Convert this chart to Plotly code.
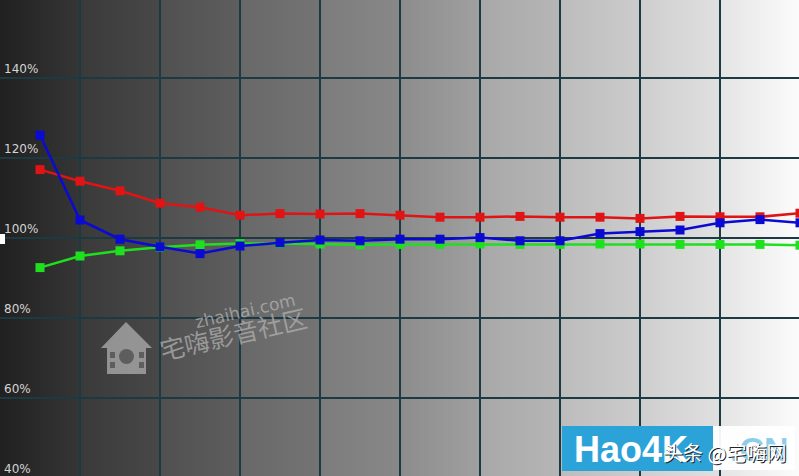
import plotly.graph_objects as go

# ---- data ----
levels = [5, 10, 15, 20, 25, 30, 35, 40, 45, 50, 55, 60, 65, 70, 75, 80, 85, 90, 95, 100]
red = [117.2, 114.3, 111.9, 108.8, 107.8, 105.8, 106.2, 106.1, 106.2, 105.8,
       105.3, 105.3, 105.5, 105.3, 105.3, 105.0, 105.5, 105.4, 105.4, 106.3]
green = [92.7, 95.6, 96.9, 97.8, 98.4, 98.7, 98.7, 98.6, 98.4, 98.5,
         98.5, 98.6, 98.5, 98.5, 98.6, 98.6, 98.5, 98.5, 98.5, 98.3]
blue = [125.8, 104.6, 99.8, 97.9, 96.2, 98.1, 98.9, 99.6, 99.4, 99.8,
        99.8, 100.2, 99.4, 99.4, 101.2, 101.7, 102.1, 103.9, 104.7, 103.9]
ytick_vals = [40, 60, 80, 100, 120, 140]
ytick_text = ["40%", "60%", "80%", "100%", "120%", "140%"]

# background gray band levels (left/right edge of each 10% column)
band_left = [32, 58, 80, 104, 124, 140, 168, 188, 206, 228]
band_right = [54, 72, 94, 116, 136, 160, 182, 204, 224, 252]

W, H = 799, 476
X0, X1 = 0, 99.875
Y0, Y1 = 40.6, 159.6


def px(x, y):
    """pixel -> data coords (for decorative watermark only)"""
    return X0 + x / W * (X1 - X0), Y1 - y / H * (Y1 - Y0)


fig = go.Figure()

shapes = []
# background gradient strips
NS = 20
for i in range(10):
    for k in range(NS):
        t = (k + 0.5) / NS
        v = int(round(band_left[i] + (band_right[i] - band_left[i]) * t))
        xa = i * 10 + k * 10 / NS
        shapes.append(dict(type="rect", xref="x", yref="y", x0=xa, x1=xa + 10 / NS + 0.02,
                           y0=Y0 - 5, y1=Y1 + 5, fillcolor=f"rgb({v},{v},{v})",
                           line=dict(width=0), layer="below"))

# left edge line
shapes.append(dict(type="line", xref="x", yref="paper", x0=0.1, x1=0.1, y0=0, y1=1,
                   line=dict(color="#1b3a42", width=2), layer="between"))
# dashed 100% reference line
shapes.append(dict(type="line", xref="paper", yref="y", x0=0, x1=1, y0=100, y1=100,
                   line=dict(color="white", width=1, dash="3px,3px"), layer="between"))
# small white marker at left of 100% line
x_a, y_a = px(0, 234)
x_b, y_b = px(5, 244)
shapes.append(dict(type="rect", xref="x", yref="y", x0=x_a, x1=x_b, y0=y_b, y1=y_a,
                   fillcolor="white", line=dict(width=0), layer="above"))

# house watermark icon
house_pts = [(101, 348), (126, 322), (152, 348), (146, 348), (146, 374), (107, 374), (107, 348)]
path = "M " + " L ".join(f"{px(a, b)[0]:.3f},{px(a, b)[1]:.3f}" for a, b in house_pts) + " Z"
shapes.append(dict(type="path", xref="x", yref="y", path=path,
                   fillcolor="rgba(175,175,175,0.75)", line=dict(width=0), layer="above"))
cx0, cy0 = px(119, 349)
cx1, cy1 = px(134, 364)
shapes.append(dict(type="circle", xref="x", yref="y", x0=cx0, x1=cx1, y0=cy1, y1=cy0,
                   fillcolor="rgba(80,80,80,0.8)", line=dict(width=0), layer="above"))
for (a, b) in [(110, 352), (110, 362), (139, 352), (139, 362)]:
    r0 = px(a, b)
    r1 = px(a + 5, b + 6)
    shapes.append(dict(type="rect", xref="x", yref="y", x0=r0[0], x1=r1[0], y0=r1[1], y1=r0[1],
                       fillcolor="rgba(80,80,80,0.8)", line=dict(width=0), layer="above"))

# Hao4K watermark boxes
b0 = px(562, 426)
b1 = px(713, 471)
shapes.append(dict(type="rect", xref="x", yref="y", x0=b0[0], x1=b1[0], y0=b1[1], y1=b0[1],
                   fillcolor="#2ba3d9", line=dict(width=0), layer="above"))
w0 = px(713, 426)
w1 = px(795, 470)
shapes.append(dict(type="rect", xref="x", yref="y", x0=w0[0], x1=w1[0], y0=w1[1], y1=w0[1],
                   fillcolor="rgba(255,255,255,0.95)", line=dict(width=0), layer="above"))

# series
for name, vals, col in [("G", green, "#1fe01f"), ("R", red, "#e01414"), ("B", blue, "#0a0ad2")]:
    fig.add_trace(go.Scatter(x=levels, y=vals, mode="lines+markers", name=name,
                             line=dict(color=col, width=2.5),
                             marker=dict(symbol="square", size=9, color=col),
                             cliponaxis=True, showlegend=False, hoverinfo="skip"))

annotations = []
for v, t in zip(ytick_vals, ytick_text):
    if v < Y0:
        annotations.append(dict(x=0.3, y=0, xref="x", yref="paper", text=t, showarrow=False,
                                xanchor="left", yanchor="bottom", yshift=-2,
                                font=dict(family="DejaVu Sans", size=12, color="#d4d4d4")))
    else:
        annotations.append(dict(x=0.3, y=v, xref="x", yref="y", text=t, showarrow=False,
                                xanchor="left", yanchor="bottom", yshift=0,
                                font=dict(family="DejaVu Sans", size=12, color="#d4d4d4")))

tx, ty = px(245, 311)
annotations.append(dict(x=tx, y=ty, xref="x", yref="y", text="zhaihai.com", showarrow=False,
                        textangle=-13, font=dict(family="DejaVu Sans", size=17,
                                                 color="rgba(185,185,185,0.7)")))
tx, ty = px(233, 333)
annotations.append(dict(x=tx, y=ty, xref="x", yref="y", text="宅嗨影音社区", showarrow=False,
                        textangle=-13, font=dict(family="Noto Sans CJK SC", size=25,
                                                 color="rgba(175,175,175,0.75)")))
tx, ty = px(572, 449)
annotations.append(dict(x=tx, y=ty, xref="x", yref="y", text="<b>Hao4K</b>", showarrow=False,
                        xanchor="left", font=dict(family="Liberation Sans", size=36, color="white")))
tx, ty = px(728, 449)
annotations.append(dict(x=tx, y=ty, xref="x", yref="y", text="<b>.CN</b>", showarrow=False,
                        xanchor="left", font=dict(family="Liberation Sans", size=34,
                                                  color="rgba(43,163,217,0.55)")))
tx, ty = px(661, 452)
annotations.append(dict(x=tx + 0.15, y=ty - 0.25, xref="x", yref="y", text="头条 @宅嗨网", showarrow=False,
                        xanchor="left", font=dict(family="Noto Sans CJK SC", size=20, color="#222")))
annotations.append(dict(x=tx, y=ty, xref="x", yref="y", text="头条 @宅嗨网", showarrow=False,
                        xanchor="left", font=dict(family="Noto Sans CJK SC", size=20, color="white")))

fig.update_layout(
    width=W, height=H,
    margin=dict(l=0, r=0, t=0, b=0),
    paper_bgcolor="#808080",
    plot_bgcolor="rgba(0,0,0,0)",
    shapes=shapes,
    annotations=annotations,
    xaxis=dict(range=[X0, X1], showticklabels=False, ticks="", zeroline=False,
               showgrid=True, gridcolor="#1b3a42", gridwidth=1.5, tick0=0, dtick=10,
               fixedrange=True),
    yaxis=dict(range=[Y0, Y1], showticklabels=False, ticks="", zeroline=False,
               showgrid=True, gridcolor="#1b3a42", gridwidth=1.5, tick0=0, dtick=20,
               fixedrange=True),
)

fig.write_html("out.html", config={"displayModeBar": False},
               post_script="document.body.style.margin='0';document.body.style.overflow='hidden';")
